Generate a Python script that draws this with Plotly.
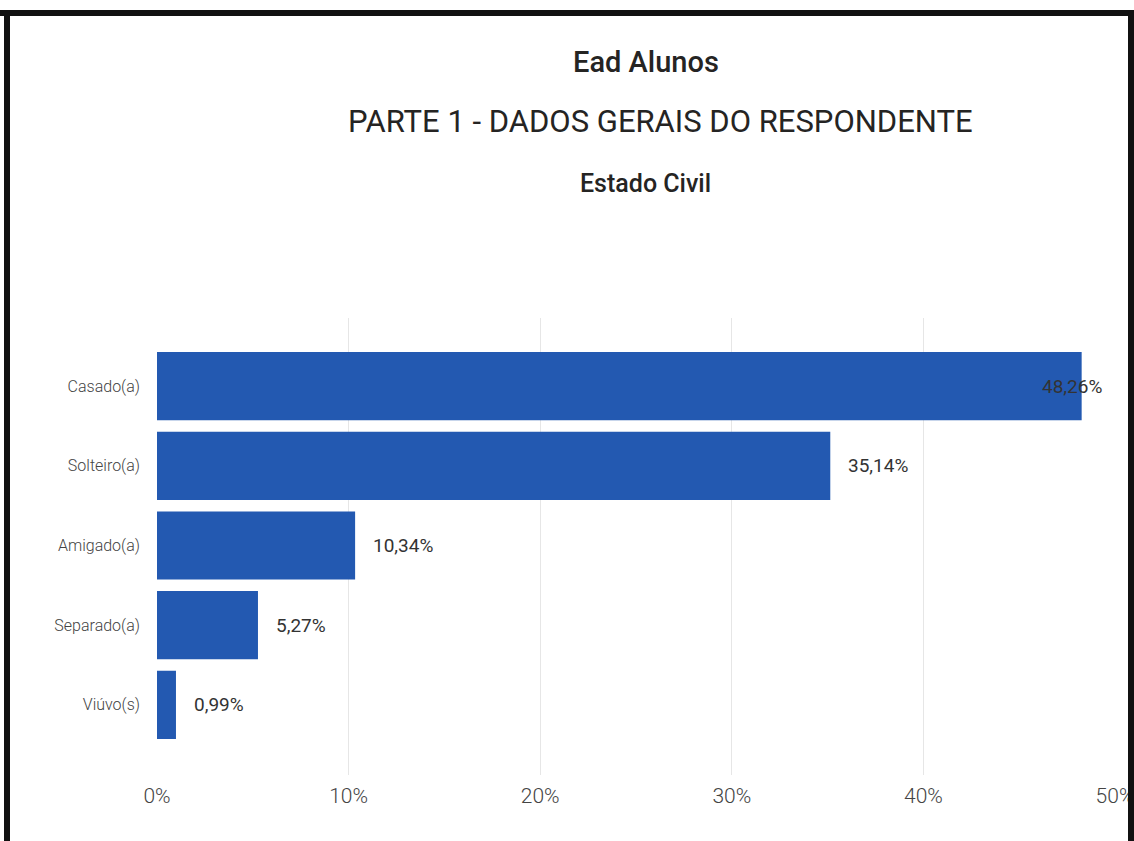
import plotly.graph_objects as go

categories = ["Casado(a)", "Solteiro(a)", "Amigado(a)", "Separado(a)", "Viúvo(s)"]
values = [48.26, 35.14, 10.34, 5.27, 0.99]
x_ticks = [0, 10, 20, 30, 40, 50]
x_tick_labels = ["0%", "10%", "20%", "30%", "40%", "50%"]

W, H = 1134, 841
L, R, T, B = 157, 1115, 318, 775

def px_x(p):
    return (p - L) / (R - L)

def px_y(p):
    return (B - p) / (B - T)

BAR = "#2359B1"
TXT = "#333333"

fig = go.Figure()
fig.add_trace(go.Bar(
    x=values, y=categories, orientation="h",
    marker=dict(color=BAR, line=dict(width=0)),
    width=0.855, hoverinfo="skip",
))

annotations = []
for c, v in zip(categories, values):
    label = f"{v:.2f}".replace(".", ",") + "%"
    shift = -42 if v > 45 else 16
    annotations.append(dict(
        x=v, y=c, xref="x", yref="y", text=label, showarrow=False,
        xanchor="left", yanchor="middle", xshift=shift,
        font=dict(family="Roboto", size=19, color=TXT),
    ))

titles = [
    ("Ead Alunos", 646, 62, 29, 500),
    ("PARTE 1 - DADOS GERAIS DO RESPONDENTE", 660, 121, 31, 400),
    ("Estado Civil", 645, 183, 25, 500),
]
for t, cx, cy, s, wgt in titles:
    annotations.append(dict(
        x=px_x(cx), y=px_y(cy), xref="paper", yref="paper", text=t,
        showarrow=False, xanchor="center", yanchor="middle",
        font=dict(family="Roboto", size=s, color="#252423", weight=wgt),
    ))

shapes = [
    dict(type="rect", xref="paper", yref="paper", layer="above",
         x0=px_x(-5), x1=px_x(1140), y0=px_y(10), y1=px_y(16),
         fillcolor="#111111", line=dict(width=0)),
    dict(type="rect", xref="paper", yref="paper", layer="above",
         x0=px_x(4), x1=px_x(10), y0=px_y(10), y1=px_y(850),
         fillcolor="#111111", line=dict(width=0)),
    dict(type="rect", xref="paper", yref="paper", layer="above",
         x0=px_x(1128), x1=px_x(1140), y0=px_y(10), y1=px_y(850),
         fillcolor="#111111", line=dict(width=0)),
]

fig.update_layout(
    width=W, height=H, autosize=False,
    margin=dict(l=L, r=W - R, t=T, b=H - B, pad=0, autoexpand=False),
    paper_bgcolor="white", plot_bgcolor="white",
    showlegend=False,
    annotations=annotations,
    shapes=shapes,
    xaxis=dict(
        range=[0, 50], tickvals=x_ticks, ticktext=x_tick_labels,
        showgrid=True, gridcolor="#E6E6E6", gridwidth=1,
        zeroline=False, showline=False, fixedrange=True, automargin=False,
        tickfont=dict(family="Roboto", size=21, color="#444444", weight=300),
        ticklabelstandoff=6, ticklabeloverflow="allow",
    ),
    yaxis=dict(
        categoryorder="array", categoryarray=categories,
        range=[4.88, -0.855], automargin=False,
        showgrid=False, zeroline=False, showline=False,
        tickfont=dict(family="Roboto", size=16, color="#444444", weight=300),
        ticklabelstandoff=16,
    ),
)

fig.write_html(
    "out.html",
    config={"displayModeBar": False, "responsive": False},
    post_script=(
        "document.documentElement.style.overflow='hidden';"
        "document.body.style.overflow='hidden';"
        "document.body.style.margin='0';"
    ),
)
